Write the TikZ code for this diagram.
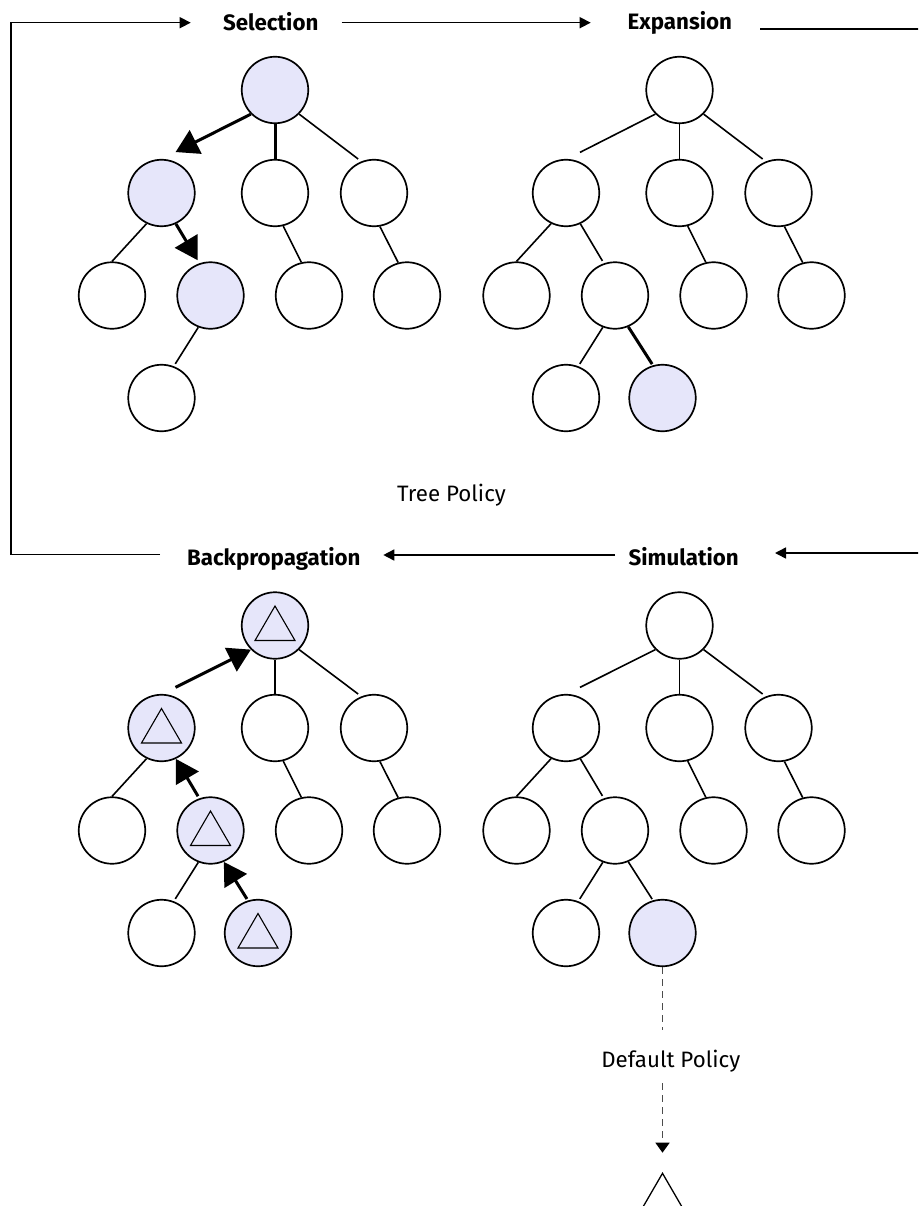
\documentclass[tikz,border=0pt]{standalone}
\usepackage{fontspec}
\setmainfont{Fira Sans}
\usepackage{tikz}
\usetikzlibrary{arrows.meta,calc}

\definecolor{visit}{RGB}{230,230,250}
\tikzset{
    state/.style={circle, draw, line width=1.7pt, minimum size=66.5pt, inner sep=0pt, fill=white},
    visited/.style={fill=visit},
    backed/.style={fill=visit, path picture={
        \draw[line width=1.1pt] ([shift={(-20pt,-15pt)}]path picture bounding box.center)
            -- ([shift={(0pt,19.5pt)}]path picture bounding box.center)
            -- ([shift={(20pt,-15pt)}]path picture bounding box.center) -- cycle;}},
    edge/.style={line width=1.6pt},
    heavy/.style={line width=3pt},
    pick/.style={line width=3pt, -{Triangle[length=22.5pt,width=26pt]}},
    flow/.style={line width=1.6pt, -{Triangle[length=11pt,width=11pt]}},
    rollout/.style={line width=1.6pt, draw=black!70, dash pattern=on 7pt off 5pt},
    phase/.style={font=\fontsize{22.3}{26}\selectfont\bfseries, anchor=base, inner sep=0pt},
    policy/.style={font=\fontsize{22.3}{26}\selectfont, anchor=base, inner sep=0pt}
}

\begin{document}
\begin{tikzpicture}[x=1pt,y=-1pt]
    \useasboundingbox (0,0) rectangle (918,1206);
    \clip (0,0) rectangle (918,1206);

    % phase labels and the loop between them

    \node[phase] (sel) at (270.7,30.5) {Selection};
    \node[phase] (exp) at (679.8,30) {Expansion};
    \node[phase] (sim) at (683.7,565) {Simulation};
    \node[phase] (back) at (273.8,565) {Backpropagation};
    \node[policy] (tpol) at (451.5,501.5) {Tree Policy};

    \coordinate (backout) at (160,554.3);
    \coordinate (selin) at (190.7,22.7);
    \coordinate (selout) at (341.7,22.7);
    \coordinate (expin) at (590.7,22.7);
    \coordinate (expout) at (760,29.3);
    \coordinate (simin) at (775,553);
    \coordinate (simout) at (615,555);
    \coordinate (backin) at (383.3,555);

    \draw[flow] (backout) -- (10.7,554.3) -- (10.7,22.7) -- (selin);
    \draw[flow] (selout) -- (expin);
    \draw[flow] (expout) -- (935,29.3) -- (935,553) -- (simin);
    \draw[flow] (simout) -- (backin);

    % selection

    \node[state,visited] (s) at (275,90) {};
    \node[state,visited] (s1) at (161.5,193) {};
    \node[state] (s2) at (275,193) {};
    \node[state] (s3) at (374,193) {};
    \node[state] (s11) at (112,295.5) {};
    \node[state,visited] (s12) at (210.5,295.5) {};
    \node[state] (s21) at (309,295.5) {};
    \node[state] (s31) at (407,295.5) {};
    \node[state] (s121) at (161.5,398) {};
    \draw[pick] (s.225) -- ($(s1)!1.27!(s1.71)$);
    \draw[heavy] (s.south) -- (s2.north);
    \draw[edge] (s.315) -- ($(s3)!1.1!(s3.115)$);
    \draw[edge] (s1.244) -- (s11.north);
    \draw[pick] (s1.295) -- ($(s12)!1.1!(s12.110)$);
    \draw[edge] (s2.284) -- (s21.103);
    \draw[edge] (s3.280) -- (s31.105);
    \draw[edge] (s12.249) -- ($(s121)!1.08!(s121.68)$);

    % expansion

    \node[state] (e) at (679.5,90) {};
    \node[state] (e1) at (566,193) {};
    \node[state] (e2) at (679.5,193) {};
    \node[state] (e3) at (778.5,193) {};
    \node[state] (e11) at (516.5,295.5) {};
    \node[state] (e12) at (615,295.5) {};
    \node[state] (e21) at (713.5,295.5) {};
    \node[state] (e31) at (811.5,295.5) {};
    \node[state] (e121) at (566,398) {};
    \node[state,visited] (e122) at (662.5,398) {};
    \draw[edge] (e.225) -- ($(e1)!1.26!(e1.71)$);
    \draw[edge] (e.south) -- (e2.north);
    \draw[edge] (e.315) -- ($(e3)!1.1!(e3.115)$);
    \draw[edge] (e1.244) -- (e11.north);
    \draw[edge] (e1.295) -- ($(e12)!1.08!(e12.110)$);
    \draw[edge] (e2.284) -- (e21.103);
    \draw[edge] (e3.280) -- (e31.105);
    \draw[edge] (e12.249) -- ($(e121)!1.08!(e121.68)$);
    \draw[heavy] (e12.293) -- ($(e122)!1.04!(e122.107)$);

    % backpropagation

    \node[state,backed] (b) at (275,625.5) {};
    \node[state,backed] (b1) at (161.5,728) {};
    \node[state] (b2) at (275,728) {};
    \node[state] (b3) at (374,728) {};
    \node[state] (b11) at (112,830.5) {};
    \node[state,backed] (b12) at (210.5,830.5) {};
    \node[state] (b21) at (309,830.5) {};
    \node[state] (b31) at (407,830.5) {};
    \node[state] (b121) at (161.5,933) {};
    \node[state,backed] (b122) at (258,933) {};
    \draw[pick] ($(b1)!1.26!(b1.71)$) -- (b.225);
    \draw[edge] (b.south) -- (b2.north);
    \draw[edge] (b.315) -- ($(b3)!1.1!(b3.115)$);
    \draw[edge] (b1.244) -- (b11.north);
    \draw[pick] ($(b12)!1.07!(b12.110)$) -- (b1.295);
    \draw[edge] (b2.284) -- (b21.103);
    \draw[edge] (b3.280) -- (b31.105);
    \draw[edge] (b12.249) -- ($(b121)!1.08!(b121.68)$);
    \draw[pick] ($(b122)!1.05!(b122.108)$) -- (b12.293);

    % simulation

    \node[state] (m) at (679.5,625.5) {};
    \node[state] (m1) at (566,728) {};
    \node[state] (m2) at (679.5,728) {};
    \node[state] (m3) at (778.5,728) {};
    \node[state] (m11) at (516.5,830.5) {};
    \node[state] (m12) at (615,830.5) {};
    \node[state] (m21) at (713.5,830.5) {};
    \node[state] (m31) at (811.5,830.5) {};
    \node[state] (m121) at (566,933) {};
    \node[state,visited] (m122) at (662.5,933) {};
    \draw[edge] (m.225) -- ($(m1)!1.26!(m1.71)$);
    \draw[edge] (m.south) -- (m2.north);
    \draw[edge] (m.315) -- ($(m3)!1.1!(m3.115)$);
    \draw[edge] (m1.244) -- (m11.north);
    \draw[edge] (m1.295) -- ($(m12)!1.08!(m12.110)$);
    \draw[edge] (m2.284) -- (m21.103);
    \draw[edge] (m3.280) -- (m31.105);
    \draw[edge] (m12.249) -- ($(m121)!1.08!(m121.68)$);
    \draw[edge] (m12.293) -- ($(m122)!1.04!(m122.107)$);

    % default policy rollout

    \node[policy] (dpol) at (670.8,1067.5) {Default Policy};
    \coordinate (leaf) at (662.5,1173.3);
    \draw[rollout] (m122.south) -- (662.5,1030);
    \draw[rollout, -{Triangle[length=10pt,width=14pt,color=black]}] (662.5,1083) -- ([yshift=20.6pt]leaf);
    \draw[line width=1.3pt] ([shift={(-20pt,-34.5pt)}]leaf) -- (leaf) -- ([shift={(20pt,-34.5pt)}]leaf);

\end{tikzpicture}
\end{document}
